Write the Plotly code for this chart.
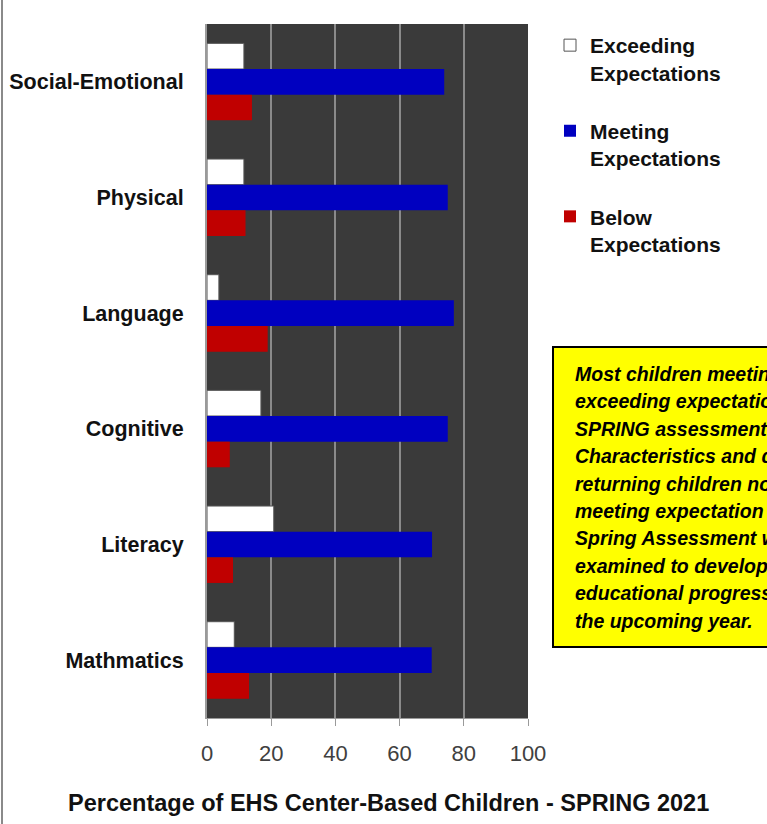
import plotly.graph_objects as go

categories = ["Social-Emotional", "Physical", "Language", "Cognitive", "Literacy", "Mathmatics"]
exceeding = [11.5, 11.5, 3.7, 16.8, 20.8, 8.5]
meeting = [73.9, 75.0, 76.9, 75.0, 70.1, 70.0]
below = [14.0, 12.0, 18.9, 7.1, 8.1, 13.1]
series_names = ["Exceeding<br>Expectations", "Meeting<br>Expectations", "Below<br>Expectations"]
x_ticks = [0, 20, 40, 60, 80, 100]
x_title = "Percentage of EHS Center-Based Children - SPRING 2021"
note_lines = [
    "Most children meeting or",
    "exceeding expectations on",
    "SPRING assessment.",
    "Characteristics and data of",
    "returning children not",
    "meeting expectation on",
    "Spring Assessment will be",
    "examined to develop an",
    "educational progress plan for",
    "the upcoming year.",
]

ARIAL = "Arial, 'Liberation Sans', sans-serif"

fig = go.Figure()
fig.add_trace(go.Bar(y=categories, x=exceeding, orientation="h", name=series_names[0],
                     marker=dict(color="#ffffff", line=dict(color="#555555", width=1)),
                     legendgroup="a"))
fig.add_trace(go.Bar(y=categories, x=meeting, orientation="h", name=series_names[1],
                     marker=dict(color="#0000c0", line=dict(width=0)), legendgroup="b"))
fig.add_trace(go.Bar(y=categories, x=below, orientation="h", name=series_names[2],
                     marker=dict(color="#c00000", line=dict(width=0)), legendgroup="c"))

L, R, T, B = 207, 239, 24, 106
W, H = 767, 824
pw = W - L - R
ph = H - T - B


def px_x(p):
    return (p - L) / pw


def px_y(p):
    return 1 - (p - T) / ph


fig.update_layout(
    width=W, height=H,
    margin=dict(l=L, r=R, t=T, b=B, pad=0, autoexpand=False),
    paper_bgcolor="white",
    plot_bgcolor="#3a3a3a",
    barmode="group",
    bargap=0.335,
    bargroupgap=0,
    showlegend=True,
    legend=dict(
        x=px_x(550), y=px_y(25), xanchor="left", yanchor="top",
        font=dict(family=ARIAL, size=21, color="#111111", weight="bold"),
        tracegroupgap=28, valign="top", itemwidth=30,
        bgcolor="rgba(0,0,0,0)",
    ),
    xaxis=dict(
        range=[0, 100], tickvals=x_ticks, showgrid=True, gridcolor="#8a8a8a", gridwidth=2,
        zeroline=False, showline=True, linecolor="#9a9a9a", linewidth=1,
        ticks="outside", ticklen=7, tickcolor="#9a9a9a", ticklabelstandoff=9,
        tickfont=dict(family=ARIAL, size=22, color="#404040"),
        fixedrange=True, automargin=False,
    ),
    yaxis=dict(
        autorange="reversed", showgrid=False, zeroline=False,
        showline=True, linecolor="#9a9a9a", linewidth=2,
        ticks="", ticklabelstandoff=17,
        tickfont=dict(family=ARIAL, size=21.5, color="#111111", weight="bold"),
        fixedrange=True, automargin=False,
    ),
)

fig.add_annotation(
    text=x_title, xref="paper", yref="paper",
    x=px_x(388), y=px_y(803), xanchor="center", yanchor="middle",
    showarrow=False, font=dict(family=ARIAL, size=23.5, color="#111111", weight="bold"),
)

# yellow note box
fig.add_shape(type="rect", xref="paper", yref="paper",
              x0=px_x(553), x1=px_x(800), y0=px_y(647), y1=px_y(347),
              fillcolor="#ffff00", line=dict(color="#000000", width=2), layer="above")
for i, line in enumerate(note_lines):
    fig.add_annotation(
        text=line, xref="paper", yref="paper",
        x=px_x(573), y=px_y(374 + 27.4 * i), xanchor="left", yanchor="middle",
        align="left", showarrow=False,
        font=dict(family=ARIAL, size=19.5, color="#000000", weight="bold", style="italic"),
    )

fig.add_shape(type="line", xref="paper", yref="paper",
              x0=px_x(2), x1=px_x(2), y0=-B / ph, y1=1 + T / ph,
              line=dict(color="#8a8a8a", width=2))

fig.write_html("out.html")
